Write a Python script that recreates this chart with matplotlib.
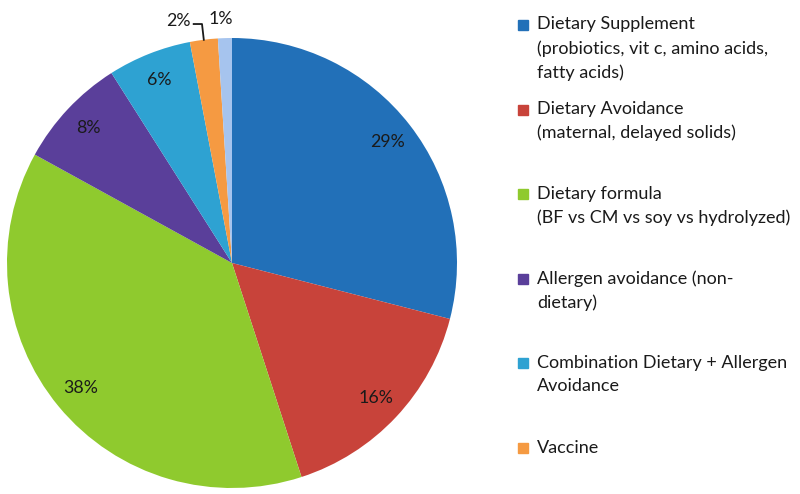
import matplotlib
matplotlib.use("Agg")
import matplotlib.pyplot as plt
import numpy as np

categories = [
    "Dietary Supplement\n(probiotics, vit c, amino acids,\nfatty acids)",
    "Dietary Avoidance\n(maternal, delayed solids)",
    "Dietary formula\n(BF vs CM vs soy vs hydrolyzed)",
    "Allergen avoidance (non-\ndietary)",
    "Combination Dietary + Allergen\nAvoidance",
    "Vaccine",
    "Other",
]
values = [29, 16, 38, 8, 6, 2, 1]
colors = ["#2270b8", "#c8433a", "#8fca2e", "#5a3f9a", "#2ea2d2", "#f59a42", "#a6c4ee"]
legend_count = 6

plt.rcParams['font.family'] = ['Lato', 'DejaVu Sans']

W, H = 800, 494
fig = plt.figure(figsize=(W / 100, H / 100), dpi=100)
cx, cy, R = 232, 263, 225
ax = fig.add_axes([(cx - R) / W, (H - cy - R) / H, 2 * R / W, 2 * R / H])

def fmt(p):
    return f"{p:.0f}%" if p >= 5 else ""

txtcol = "#1a1a1a"
wedges, texts, autotexts = ax.pie(values, colors=colors, startangle=90, counterclock=False,
                                  autopct=fmt, pctdistance=0.875, radius=1,
                                  textprops=dict(fontsize=12.8, color=txtcol))
ax.set_xlim(-1, 1)
ax.set_ylim(-1, 1)
ax.set_aspect('equal')
ax.axis('off')

# small slice labels outside
for i, w in enumerate(wedges):
    if values[i] >= 5:
        continue
    ang = np.deg2rad((w.theta1 + w.theta2) / 2)
    ex, ey = np.cos(ang), np.sin(ang)
    if values[i] == 2:
        ax.plot([ex, ex - 0.008, ex - 0.045], [ey, ey + 0.07, ey + 0.07], color=txtcol, lw=1.3,
                clip_on=False)
        ax.text(ex - 0.06, ey + 0.085, f"{values[i]}%", ha='right', va='center', fontsize=12.8,
                color=txtcol)
    else:
        ax.text(ex - 0.02, ey + 0.085, f"{values[i]}%", ha='center', va='center', fontsize=12.8,
                color=txtcol)

# legend
top = 25
step = 84.6
for i in range(legend_count):
    y = top + i * step
    fig.patches.append(plt.Rectangle(((523 - 5) / W, 1 - (y + 5) / H), 10 / W, 10 / H,
                                     transform=fig.transFigure, color=colors[i], figure=fig))
    fig.text(537 / W, 1 - (y - 8.5) / H, categories[i], ha='left', va='top', fontsize=13.0,
             color=txtcol, linespacing=1.55)

fig.savefig("out.png", dpi=100, facecolor="white")
